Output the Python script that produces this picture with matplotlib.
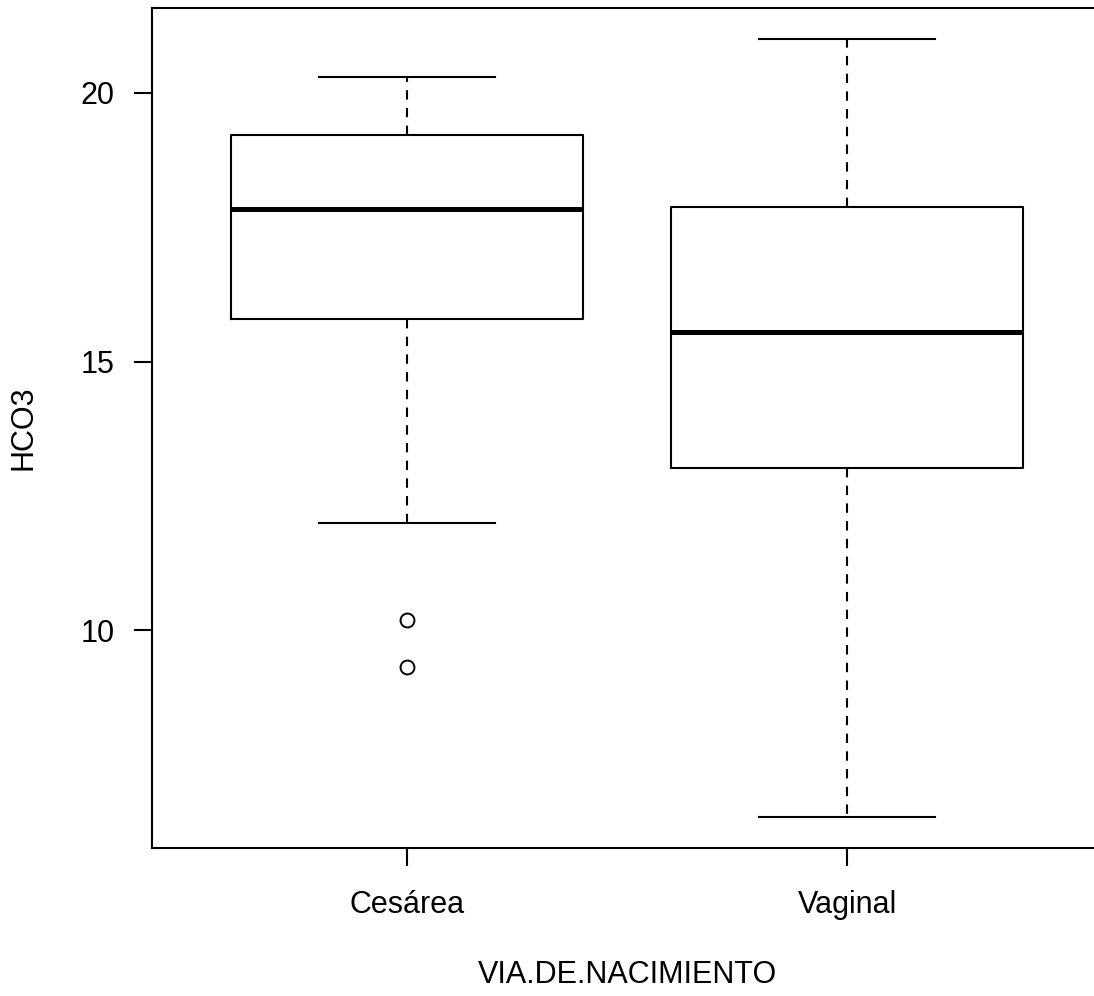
import matplotlib
matplotlib.use("Agg")
import matplotlib.pyplot as plt

# valores (HCO3 por vía de nacimiento)
groups = ["Cesárea", "Vaginal"]
whislo = [12.0, 6.53]
q1 = [15.80, 13.02]
med = [17.84, 15.56]
q3 = [19.22, 17.87]
whishi = [20.30, 21.0]
fliers = [[10.2, 9.31], []]

plt.rcParams["font.family"] = ["Liberation Sans", "DejaVu Sans"]

fig = plt.figure(figsize=(10.94, 9.96), dpi=100)
ax = fig.add_axes([152 / 1094, 148 / 996, 950.4 / 1094, 840 / 996])

stats = []
for i, name in enumerate(groups):
    stats.append({
        "label": name,
        "whislo": whislo[i],
        "q1": q1[i],
        "med": med[i],
        "q3": q3[i],
        "whishi": whishi[i],
        "fliers": fliers[i],
    })

lw = 1.5
ax.bxp(
    stats,
    positions=[1, 2],
    widths=0.8,
    capwidths=0.4,
    patch_artist=False,
    boxprops=dict(color="black", linewidth=lw),
    medianprops=dict(color="black", linewidth=3.6, solid_capstyle="butt"),
    whiskerprops=dict(color="black", linewidth=lw, linestyle=(0, (4.5, 4))),
    capprops=dict(color="black", linewidth=lw),
    flierprops=dict(marker="o", markersize=10, markerfacecolor="none",
                    markeredgecolor="black", markeredgewidth=1.4),
)

ax.set_xlim(0.42, 2.58)
ax.set_ylim(5.95, 21.58)
ax.set_yticks([10, 15, 20])
ax.set_yticklabels(["10", "15", "20"])
ax.set_xticks([1, 2])
ax.set_xticklabels(groups)

for sp in ax.spines.values():
    sp.set_linewidth(lw)

ax.tick_params(axis="both", direction="out", length=13, width=lw,
               labelsize=22, pad=14)
ax.tick_params(axis="x", pad=17)

ax.set_xlabel("VIA.DE.NACIMIENTO", fontsize=22, labelpad=29)
ax.set_ylabel("HCO3", fontsize=22, labelpad=30)

fig.savefig("out.png", dpi=100)
